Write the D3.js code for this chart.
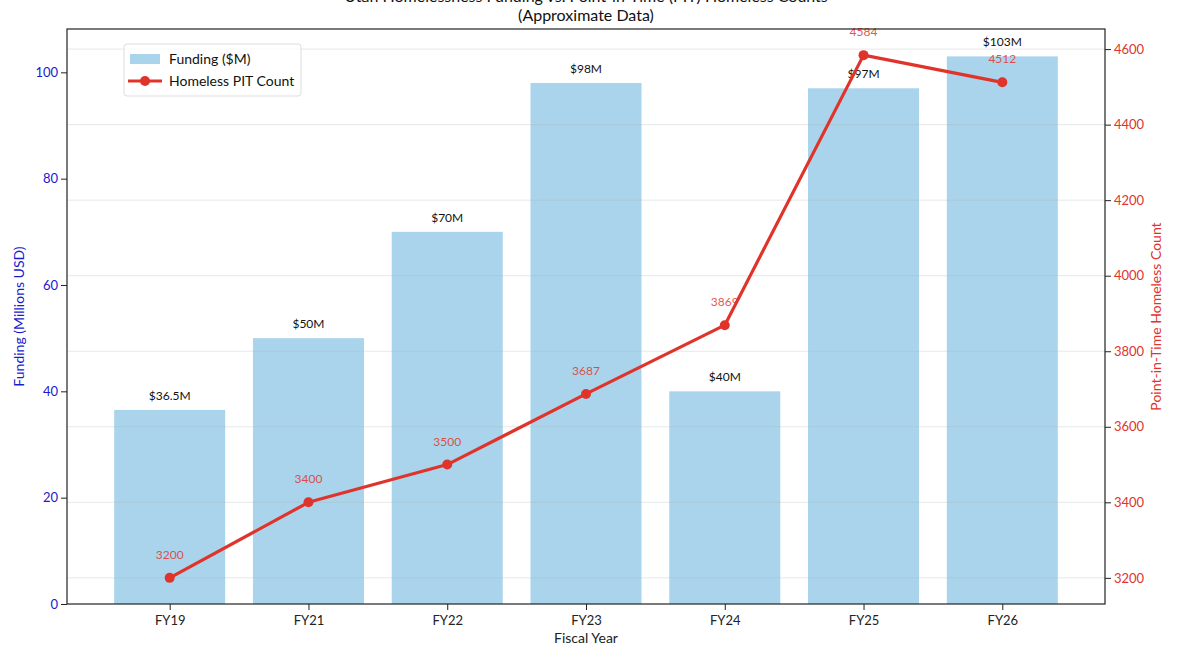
<!DOCTYPE html>
<html>
<head>
<meta charset="utf-8">
<script src="https://cdn.jsdelivr.net/npm/d3@7"></script>
<style>
  body { margin: 0; background: #fff; }
  text { font-family: "Lato", "Noto Sans", sans-serif; }
</style>
</head>
<body>
<div id="chart"></div>
<script>
// data
const years = ["FY19", "FY21", "FY22", "FY23", "FY24", "FY25", "FY26"];
const funding = [36.5, 50, 70, 98, 40, 97, 103];
const fundingLabels = ["$36.5M", "$50M", "$70M", "$98M", "$40M", "$97M", "$103M"];
const pitCounts = [3200, 3400, 3500, 3687, 3869, 4584, 4512];
const leftTicks = [0, 20, 40, 60, 80, 100];
const rightTicks = [3200, 3400, 3600, 3800, 4000, 4200, 4400, 4600];

// page setup
const width = 1179, height = 660;
const margin = {top: 29, right: 74, bottom: 56, left: 67};
const plotW = width - margin.left - margin.right;
const plotH = height - margin.top - margin.bottom;

const svg = d3.select("#chart").append("svg")
    .attr("width", width)
    .attr("height", height);

const g = svg.append("g")
    .attr("transform", `translate(${margin.left},${margin.top})`);

// x is a linear scale over category index, like matplotlib's bar positions
const x = d3.scaleLinear()
    .domain([-0.74, years.length - 1 + 0.74])
    .range([0, plotW]);
const barW = x(0.8) - x(0);

const yLeft = d3.scaleLinear()
    .domain([0, 103 * 1.05])
    .range([plotH, 0]);

const pitMin = d3.min(pitCounts), pitMax = d3.max(pitCounts);
const pad = (pitMax - pitMin) * 0.05;
const yRight = d3.scaleLinear()
    .domain([pitMin - pad, pitMax + pad])
    .range([plotH, 0]);

// bars
g.selectAll("rect.bar")
    .data(funding)
    .enter()
    .append("rect")
    .attr("class", "bar")
    .attr("x", (d, i) => x(i) - barW / 2)
    .attr("y", d => yLeft(d))
    .attr("width", barW)
    .attr("height", d => plotH - yLeft(d))
    .attr("fill", "#a9d4ec");

// funding labels
g.selectAll("text.flabel")
    .data(funding)
    .enter()
    .append("text")
    .attr("class", "flabel")
    .attr("x", (d, i) => x(i))
    .attr("y", d => yLeft(d) - 10)
    .attr("text-anchor", "middle")
    .attr("font-size", "12px")
    .attr("fill", "#111")
    .text((d, i) => fundingLabels[i]);

// right axis grid (drawn over bars)
g.append("g")
    .selectAll("line")
    .data(rightTicks)
    .enter()
    .append("line")
    .attr("x1", 0)
    .attr("x2", plotW)
    .attr("y1", d => yRight(d))
    .attr("y2", d => yRight(d))
    .attr("stroke", "#b0b0b0")
    .attr("stroke-opacity", 0.3)
    .attr("stroke-width", 1);

// PIT line
const line = d3.line()
    .x((d, i) => x(i))
    .y(d => yRight(d));

g.append("path")
    .datum(pitCounts)
    .attr("d", line)
    .attr("fill", "none")
    .attr("stroke", "#e0342b")
    .attr("stroke-width", 3.2)
    .attr("stroke-linejoin", "round");

g.selectAll("circle.pt")
    .data(pitCounts)
    .enter()
    .append("circle")
    .attr("class", "pt")
    .attr("cx", (d, i) => x(i))
    .attr("cy", d => yRight(d))
    .attr("r", 5)
    .attr("fill", "#e0342b");

// count labels
g.selectAll("text.clabel")
    .data(pitCounts)
    .enter()
    .append("text")
    .attr("class", "clabel")
    .attr("x", (d, i) => x(i))
    .attr("y", d => yRight(d) - 19)
    .attr("text-anchor", "middle")
    .attr("font-size", "12px")
    .attr("fill", "#e0342b")
    .attr("fill-opacity", 0.85)
    .text(d => d);

// frame
g.append("rect")
    .attr("width", plotW)
    .attr("height", plotH)
    .attr("fill", "none")
    .attr("stroke", "#222")
    .attr("stroke-width", 1.2);

// x axis
const xAxis = g.append("g")
    .attr("transform", `translate(0,${plotH})`)
    .call(d3.axisBottom(x).tickValues(d3.range(years.length)).tickFormat(i => years[i]).tickSizeOuter(0));
xAxis.select(".domain").remove();
xAxis.selectAll("text").attr("font-size", "13px").attr("fill", "#222").attr("dy", "0.9em");
xAxis.selectAll("line").attr("stroke", "#222");

// left axis
const leftAxis = g.append("g")
    .call(d3.axisLeft(yLeft).tickValues(leftTicks).tickSizeOuter(0));
leftAxis.select(".domain").remove();
leftAxis.selectAll("text").attr("font-size", "13px").attr("fill", "#1a1ad0");
leftAxis.selectAll("line").attr("stroke", "#222");

// right axis
const rightAxis = g.append("g")
    .attr("transform", `translate(${plotW},0)`)
    .call(d3.axisRight(yRight).tickValues(rightTicks).tickFormat(d3.format("d")).tickSizeOuter(0));
rightAxis.select(".domain").remove();
rightAxis.selectAll("text").attr("font-size", "13px").attr("fill", "#e0342b");
rightAxis.selectAll("line").attr("stroke", "#222");

// axis labels
svg.append("text")
    .attr("x", margin.left + plotW / 2)
    .attr("y", 643)
    .attr("text-anchor", "middle")
    .attr("font-size", "14px")
    .attr("fill", "#222")
    .text("Fiscal Year");

svg.append("text")
    .attr("transform", `translate(24,${margin.top + plotH / 2}) rotate(-90)`)
    .attr("text-anchor", "middle")
    .attr("font-size", "14px")
    .attr("fill", "#1a1ad0")
    .text("Funding (Millions USD)");

svg.append("text")
    .attr("transform", `translate(1161,${margin.top + plotH / 2}) rotate(-90)`)
    .attr("text-anchor", "middle")
    .attr("font-size", "14px")
    .attr("fill", "#e0342b")
    .text("Point-in-Time Homeless Count");

// title (first line runs off the top, as in the source)
svg.append("text")
    .attr("x", margin.left + plotW / 2)
    .attr("y", 2)
    .attr("text-anchor", "middle")
    .attr("font-size", "16px")
    .attr("fill", "#111")
    .text("Utah Homelessness Funding vs. Point-in-Time (PIT) Homeless Counts");
svg.append("text")
    .attr("x", margin.left + plotW / 2)
    .attr("y", 21)
    .attr("text-anchor", "middle")
    .attr("font-size", "16px")
    .attr("fill", "#111")
    .text("(Approximate Data)");

// legend
const legend = g.append("g").attr("transform", "translate(57,15)");
legend.append("rect")
    .attr("width", 177)
    .attr("height", 52)
    .attr("rx", 3)
    .attr("fill", "#fff")
    .attr("fill-opacity", 0.8)
    .attr("stroke", "#ddd");
legend.append("rect")
    .attr("x", 6).attr("y", 10)
    .attr("width", 30).attr("height", 10)
    .attr("fill", "#a9d4ec");
legend.append("text")
    .attr("x", 45).attr("y", 20)
    .attr("font-size", "14px").attr("fill", "#111")
    .text("Funding ($M)");
legend.append("line")
    .attr("x1", 4).attr("x2", 38)
    .attr("y1", 37).attr("y2", 37)
    .attr("stroke", "#e0342b").attr("stroke-width", 3.2);
legend.append("circle")
    .attr("cx", 21).attr("cy", 37).attr("r", 5)
    .attr("fill", "#e0342b");
legend.append("text")
    .attr("x", 45).attr("y", 42)
    .attr("font-size", "14px").attr("fill", "#111")
    .text("Homeless PIT Count");
</script>
</body>
</html>
